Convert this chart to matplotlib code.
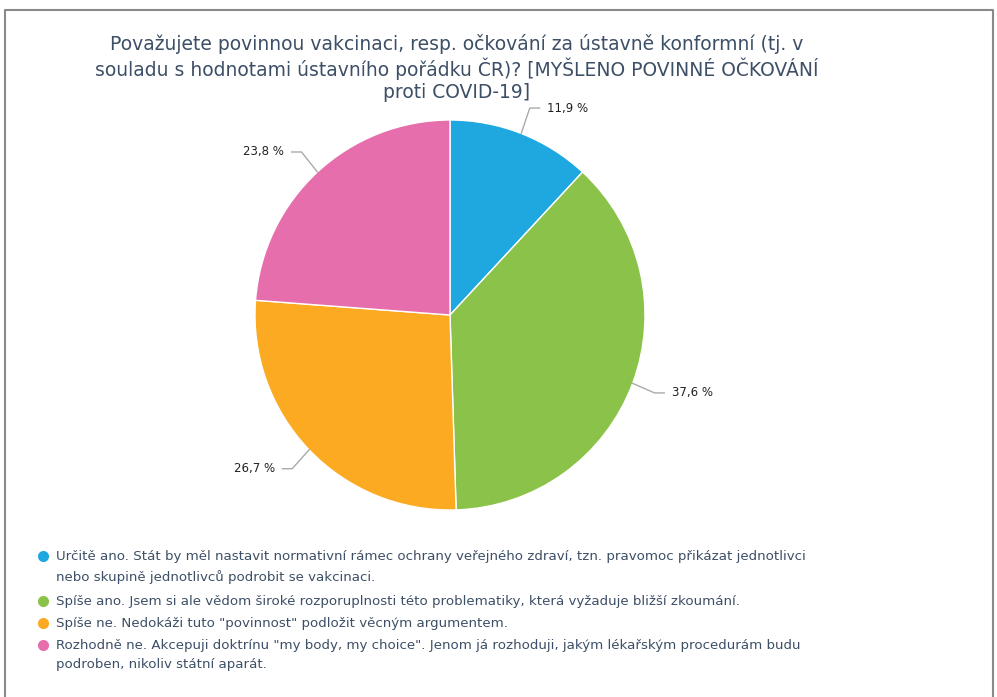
import matplotlib.pyplot as plt
import numpy as np

title = ("Považujete povinnou vakcinaci, resp. očkování za ústavně konformní (tj. v\n"
         "souladu s hodnotami ústavního pořádku ČR)? [MYŠLENO POVINNÉ OČKOVÁNÍ\n"
         "proti COVID-19]")
categories = [
    "Určitě ano. Stát by měl nastavit normativní rámec ochrany veřejného zdraví, tzn. pravomoc přikázat jednotlivci\n"
    "nebo skupině jednotlivců podrobit se vakcinaci.",
    "Spíše ano. Jsem si ale vědom široké rozporuplnosti této problematiky, která vyžaduje bližší zkoumání.",
    "Spíše ne. Nedokáži tuto \"povinnost\" podložit věcným argumentem.",
    "Rozhodně ne. Akcepuji doktrínu \"my body, my choice\". Jenom já rozhoduji, jakým lékařským procedurám budu\n"
    "podroben, nikoliv státní aparát.",
]
values = [11.9, 37.6, 26.7, 23.8]
colors = ["#1fa8e0", "#8bc34a", "#fbaa22", "#e76ead"]

W, H = 997, 697
text_col = "#3d4f66"

fig = plt.figure(figsize=(W / 100, H / 100), dpi=100)

# overlay axes in pixel coordinates for border, title, legend
ov = fig.add_axes([0, 0, 1, 1])
ov.set_xlim(0, W)
ov.set_ylim(H, 0)
ov.axis("off")
ov.plot([5, 5, 993, 993], [H + 5, 10, 10, H + 5], color="#8a8a8a", lw=1.5, clip_on=False)
ov.text(457, 68, title, ha="center", va="center", fontsize=13.5, color=text_col,
        linespacing=1.17)

# pie: centre (450, 315) px, radius 195 px
cx, cy, r, half = 450, 315, 195, 260
ax = fig.add_axes([(cx - half) / W, (H - cy - half) / H, 2 * half / W, 2 * half / H])
wedges, _ = ax.pie(values, colors=colors, startangle=90, counterclock=False, radius=1,
                   wedgeprops=dict(edgecolor="white", linewidth=1))
ax.set_xlim(-half / r, half / r)
ax.set_ylim(-half / r, half / r)
ax.set_aspect("equal")
ax.axis("off")

for w, v in zip(wedges, values):
    mid = np.deg2rad((w.theta1 + w.theta2) / 2)
    ex, ey = np.cos(mid), np.sin(mid)
    kx, ky = 1.12 * ex, 1.14 * ey
    side = 1 if ex >= 0 else -1
    hx = kx + side * 0.05
    ax.plot([ex, kx, hx], [ey, ky, ky], color="#aaaaaa", lw=1)
    ax.text(hx + side * 0.04, ky, f"{v:.1f} %".replace(".", ","), ha="left" if side > 0 else "right",
            va="center", fontsize=8.5, color="#222222")

# legend
y = 556
for cat, c in zip(categories, colors):
    ov.plot(43, y, "o", ms=8, color=c, markeredgewidth=0)
    ov.text(56, y - 6, cat, ha="left", va="top", fontsize=9.6, color=text_col,
            linespacing=1.6)
    y += 22.3 * (cat.count("\n") + 1)

fig.savefig("out.png", dpi=100)
